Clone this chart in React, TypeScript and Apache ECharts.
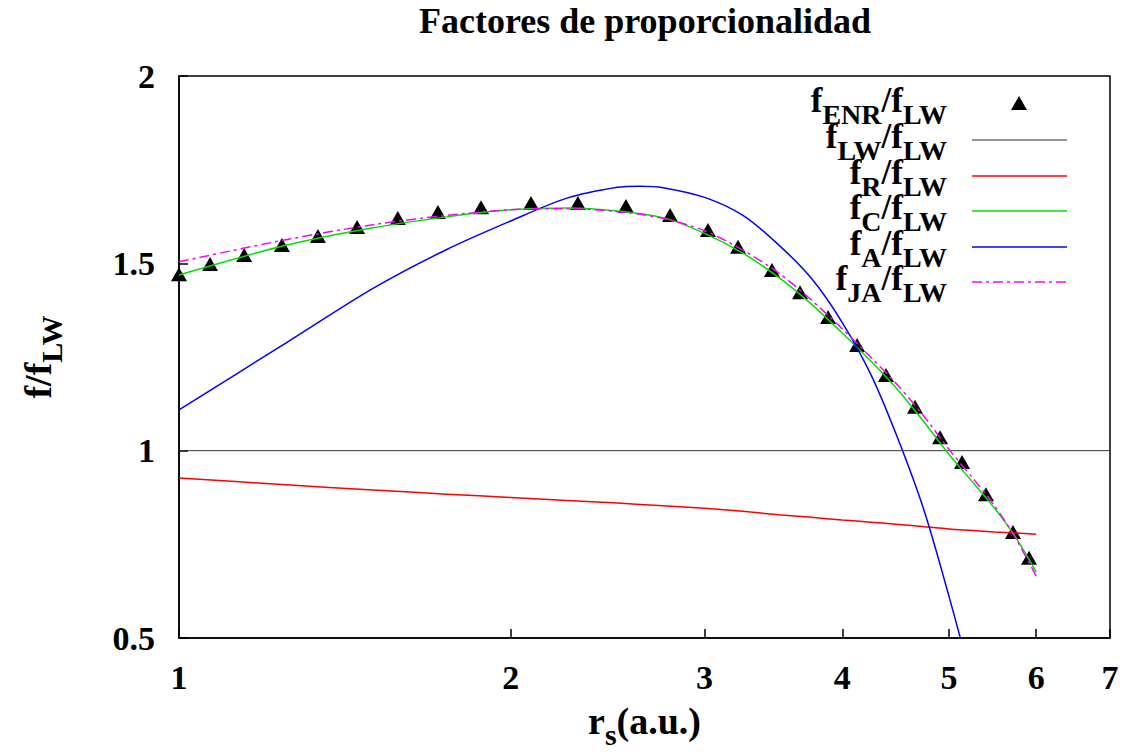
import React, { useEffect, useRef } from "react";
import * as echarts from "echarts";

// ---- data ----
const rsTicks = [1, 2, 3, 4, 5, 6, 7];

const rsENR = [1.0, 1.067, 1.146, 1.24, 1.337, 1.451, 1.58, 1.718, 1.88, 2.087, 2.302, 2.545, 2.791, 3.021, 3.217, 3.453, 3.662, 3.883, 4.126, 4.383, 4.657, 4.907, 5.138, 5.402, 5.715, 5.91];
const fENR = [1.471, 1.498, 1.522, 1.549, 1.573, 1.597, 1.621, 1.637, 1.65, 1.661, 1.661, 1.653, 1.629, 1.589, 1.544, 1.482, 1.423, 1.357, 1.282, 1.202, 1.117, 1.036, 0.97, 0.884, 0.783, 0.714];

const rsLW = [1, 7];
const fLW = [1, 1];

const rsCurve = [1, 1.25, 1.5, 1.75, 2, 2.25, 2.5, 2.75, 3, 3.25, 3.5, 3.75, 4, 4.25, 4.5, 4.75, 5, 5.25, 5.5, 5.75, 6];
const fR = [0.927, 0.909, 0.895, 0.884, 0.875, 0.867, 0.86, 0.853, 0.846, 0.838, 0.829, 0.822, 0.815, 0.809, 0.803, 0.797, 0.791, 0.787, 0.783, 0.78, 0.777];
const fC = [1.469, 1.548, 1.595, 1.624, 1.643, 1.648, 1.64, 1.622, 1.58, 1.527, 1.463, 1.391, 1.314, 1.238, 1.16, 1.075, 0.99, 0.917, 0.846, 0.768, 0.676];
const fJA = [1.504, 1.563, 1.603, 1.628, 1.643, 1.646, 1.638, 1.62, 1.587, 1.535, 1.475, 1.402, 1.325, 1.248, 1.172, 1.09, 1.003, 0.928, 0.853, 0.765, 0.665];

const rsA = [1, 1.25, 1.5, 1.75, 2, 2.25, 2.5, 2.62, 2.75, 3, 3.25, 3.5, 3.75, 4, 4.25, 4.5, 4.75, 5, 5.25];
const fA = [1.109, 1.287, 1.433, 1.537, 1.613, 1.674, 1.703, 1.706, 1.702, 1.676, 1.628, 1.55, 1.46, 1.342, 1.201, 1.027, 0.837, 0.611, 0.38];

const FONT = "'Liberation Serif', 'Times New Roman', serif";

const zip = (xs: number[], ys: number[]) => ys.map((y, i) => [xs[i], y]);

// axis-name rich styles (echarts naming)
const richName = {
  m: { fontFamily: FONT, fontWeight: "bold", fontSize: 38, lineHeight: 38, verticalAlign: "top", color: "#000" },
  s: { fontFamily: FONT, fontWeight: "bold", fontSize: 30, lineHeight: 30, padding: [17, 0, 0, 0], verticalAlign: "top", color: "#000" },
};
// legend rich styles (zrender naming)
const richLegend = {
  m: { fontFamily: FONT, fontWeight: "bold", fontSize: 35, lineHeight: 35, verticalAlign: "top", fill: "#000" },
  s: { fontFamily: FONT, fontWeight: "bold", fontSize: 28, lineHeight: 28, padding: [18, 0, 0, 0], verticalAlign: "top", fill: "#000" },
};

const legendRows = [
  { label: "{m|f}{s|ENR}{m|/f}{s|LW}", y: 104, color: "#000", kind: "tri" },
  { label: "{m|f}{s|LW}{m|/f}{s|LW}", y: 140, color: "#333", kind: "line" },
  { label: "{m|f}{s|R}{m|/f}{s|LW}", y: 176, color: "#ff0000", kind: "line" },
  { label: "{m|f}{s|C}{m|/f}{s|LW}", y: 211, color: "#00e000", kind: "line" },
  { label: "{m|f}{s|A}{m|/f}{s|LW}", y: 247, color: "#0000ff", kind: "line" },
  { label: "{m|f}{s|JA}{m|/f}{s|LW}", y: 282, color: "#ff00ff", kind: "dash" },
];

export default function App() {
  const ref = useRef<HTMLDivElement>(null);
  useEffect(() => {
    if (!ref.current) return;
    const chart = echarts.init(ref.current, null, { renderer: "svg" });

    const graphics: any[] = [
      {
        type: "text",
        x: 645,
        y: 21,
        style: {
          text: "Factores de proporcionalidad",
          fontFamily: FONT,
          fontWeight: "bold",
          fontSize: 36,
          fill: "#000",
          align: "center",
          verticalAlign: "middle",
          textAlign: "center",
          textVerticalAlign: "middle",
        },
      },
    ];
    legendRows.forEach((r) => {
      graphics.push({
        type: "text",
        x: 947,
        y: r.y + 8 - 29.3,
        style: {
          text: r.label,
          rich: richLegend,
          align: "right",
          verticalAlign: "top",
          textAlign: "right",
          textVerticalAlign: "top",
        },
      });
      if (r.kind === "tri") {
        graphics.push({
          type: "polygon",
          shape: { points: [[1011, r.y + 6], [1027, r.y + 6], [1019, r.y - 8]] },
          style: { fill: "#000" },
        });
      } else {
        graphics.push({
          type: "line",
          shape: { x1: 972, y1: r.y, x2: 1067, y2: r.y },
          style: {
            stroke: r.color,
            lineWidth: r.color === "#333" ? 1 : 1.5,
            lineDash: r.kind === "dash" ? [10, 4, 3, 4] : null,
          },
        });
      }
    });

    const lineSeries = (name: string, xs: number[], ys: number[], color: string, dash?: number[]) => ({
      name,
      type: "line",
      data: zip(xs, ys),
      showSymbol: false,
      symbol: "none",
      smooth: 0.3,
      clip: true,
      lineStyle: { color, width: 1.5, type: dash || "solid" },
    });

    chart.setOption({
      animation: false,
      grid: {
        left: 179,
        right: 16,
        top: 76,
        bottom: 114,
        containLabel: false,
        outerBoundsMode: "none",
        show: true,
        borderColor: "#000",
        borderWidth: 1.5,
        backgroundColor: "transparent",
      },
      xAxis: {
        type: "log",
        logBase: 7,
        min: 1,
        max: 7,
        name: "{m|r}{s|s}{m|(a.u.)}",
        nameLocation: "middle",
        nameGap: 64,
        nameTextStyle: { rich: richName },
        axisLine: { lineStyle: { color: "#000", width: 1.5 } },
        axisTick: { inside: true, length: 9, customValues: rsTicks, lineStyle: { color: "#000", width: 1.5 } },
        minorTick: { show: false },
        splitLine: { show: false },
        axisLabel: {
          customValues: rsTicks,
          formatter: (v: number) => String(Math.round(v)),
          fontFamily: FONT,
          fontWeight: "bold",
          fontSize: 34,
          color: "#000",
          margin: 22,
        },
      },
      yAxis: {
        type: "value",
        min: 0.5,
        max: 2,
        interval: 0.5,
        name: "{m|f/f}{s|LW}",
        nameLocation: "middle",
        nameRotate: 90,
        nameGap: 122,
        nameTextStyle: { rich: richName },
        axisLine: { lineStyle: { color: "#000", width: 1.5 } },
        axisTick: { inside: true, length: 9, lineStyle: { color: "#000", width: 1.5 } },
        splitLine: { show: false },
        axisLabel: {
          fontFamily: FONT,
          fontWeight: "bold",
          fontSize: 34,
          color: "#000",
          margin: 24,
        },
      },
      series: [
        {
          name: "fENR/fLW",
          type: "scatter",
          data: zip(rsENR, fENR),
          symbol: "triangle",
          symbolSize: [16, 14],
          itemStyle: { color: "#000", opacity: 1 },
        },
        {
          name: "fLW/fLW",
          type: "line",
          data: zip(rsLW, fLW),
          showSymbol: false,
          symbol: "none",
          lineStyle: { color: "#333", width: 1 },
        },
        lineSeries("fR/fLW", rsCurve, fR, "#ff0000"),
        lineSeries("fC/fLW", rsCurve, fC, "#00e000"),
        lineSeries("fA/fLW", rsA, fA, "#0000ff"),
        lineSeries("fJA/fLW", rsCurve, fJA, "#ff00ff", [10, 4, 3, 4]),
      ],
      graphic: graphics,
    });
    return () => chart.dispose();
  }, []);
  return (
    <div
      ref={ref}
      style={{ position: "fixed", left: 0, top: 0, width: 1126, height: 752, background: "#fff" }}
    />
  );
}
